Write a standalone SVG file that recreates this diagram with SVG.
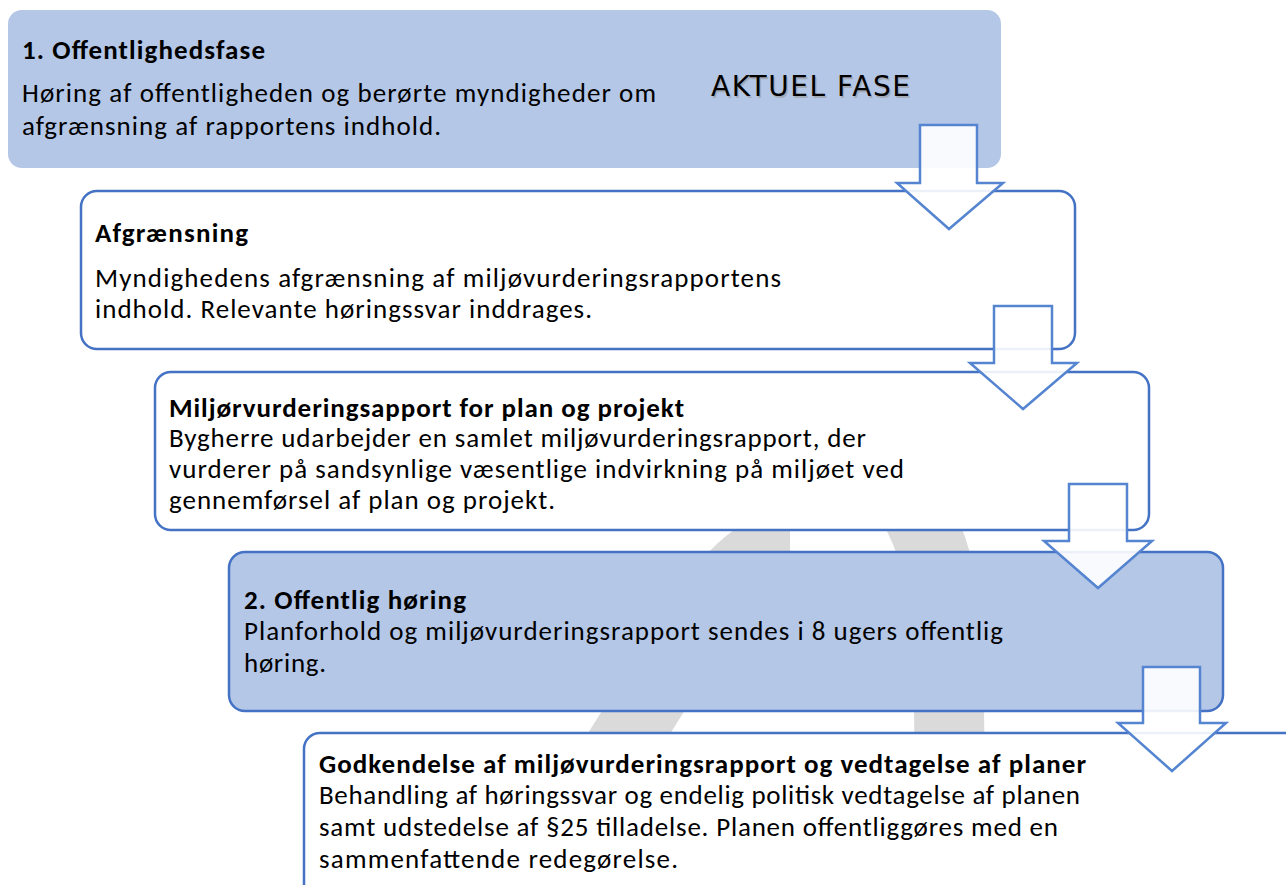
<svg xmlns="http://www.w3.org/2000/svg" width="1286" height="885" viewBox="0 0 1286 885">
<defs>
<style>
.bg{fill:#ffffff}
.blue{fill:#B4C7E7}
.wbox{fill:#ffffff;stroke:#4472C4;stroke-width:2.5}
.bbox{fill:#B4C7E7;stroke:#4472C4;stroke-width:2.5}
.arrow{fill:#ffffff;fill-opacity:0.9;stroke:#5584D0;stroke-width:2.5;stroke-linejoin:miter}
.t{font-family:Carlito,Lato,"Noto Sans",sans-serif;font-size:27px;fill:#000000}
.b{font-weight:bold}
.wm{fill:none;stroke:#DADADA;stroke-width:70}
.ak{font-family:"DejaVu Sans",Verdana,sans-serif;font-size:28px}
</style>
</defs>
<rect class="bg" x="0" y="0" width="1286" height="885"/>
<g id="watermark">
<path class="wm" d="M 600 780 L 700 620 Q 750 545 790 545"/>
<path class="wm" d="M 910 500 Q 945 560 948 640 L 950 780"/>
</g>
<g id="node1">
<rect class="blue" x="8" y="10" width="993" height="158" rx="14"/>
<text class="t b" x="22" y="59" textLength="243">1. Offentlighedsfase</text>
<text class="t" x="22" y="102" textLength="634">Høring af offentligheden og berørte myndigheder om</text>
<text class="t" x="22" y="135" textLength="419">afgrænsning af rapportens indhold.</text>
<text class="ak" x="712.5" y="97.5" textLength="199" fill="#9a9a9a" opacity="0.6">AKTUEL FASE</text>
<text class="ak" x="711" y="96" textLength="199" fill="#000000">AKTUEL FASE</text>
</g>
<g id="node2">
<rect class="wbox" x="81" y="191" width="994" height="158" rx="16"/>
<text class="t b" x="95" y="242" textLength="153">Afgrænsning</text>
<text class="t" x="95" y="287" textLength="686">Myndighedens afgrænsning af miljøvurderingsrapportens</text>
<text class="t" x="95" y="318" textLength="497">indhold. Relevante høringssvar inddrages.</text>
</g>
<g id="node3">
<rect class="wbox" x="155" y="372" width="994" height="158" rx="16"/>
<text class="t b" x="169" y="417" textLength="515">Miljørvurderingsapport for plan og projekt</text>
<text class="t" x="169" y="447" textLength="697">Bygherre udarbejder en samlet miljøvurderingsrapport, der</text>
<text class="t" x="169" y="478" textLength="735">vurderer på sandsynlige væsentlige indvirkning på miljøet ved</text>
<text class="t" x="169" y="509" textLength="386">gennemførsel af plan og projekt.</text>
</g>
<g id="node4">
<rect class="bbox" x="229" y="552" width="994" height="159" rx="16"/>
<text class="t b" x="244" y="609" textLength="222">2. Offentlig høring</text>
<text class="t" x="244" y="640" textLength="759">Planforhold og miljøvurderingsrapport sendes i 8 ugers offentlig</text>
<text class="t" x="244" y="672" textLength="82">høring.</text>
</g>
<g id="node5">
<rect class="wbox" x="304" y="733" width="1100" height="300" rx="16"/>
<text class="t b" x="319" y="773" textLength="767">Godkendelse af miljøvurderingsrapport og vedtagelse af planer</text>
<text class="t" x="319" y="804" textLength="761">Behandling af høringssvar og endelig politisk vedtagelse af planen</text>
<text class="t" x="319" y="836" textLength="739">samt udstedelse af §25 tilladelse. Planen offentliggøres med en</text>
<text class="t" x="319" y="868" textLength="359">sammenfattende redegørelse.</text>
</g>
<g id="connectors">
<path class="arrow" d="M 920 125 L 977 125 L 977 183 L 1003 183 L 949 229 L 897 183 L 920 183 Z"/>
<path class="arrow" d="M 994 306 L 1052 306 L 1052 363 L 1077 363 L 1023 409 L 970 363 L 994 363 Z"/>
<path class="arrow" d="M 1069 484 L 1127 484 L 1127 541 L 1152 541 L 1098 588 L 1044 541 L 1069 541 Z"/>
<path class="arrow" d="M 1143 667 L 1200 667 L 1200 723 L 1226 723 L 1172 771 L 1118 723 L 1143 723 Z"/>
</g>
</svg>
